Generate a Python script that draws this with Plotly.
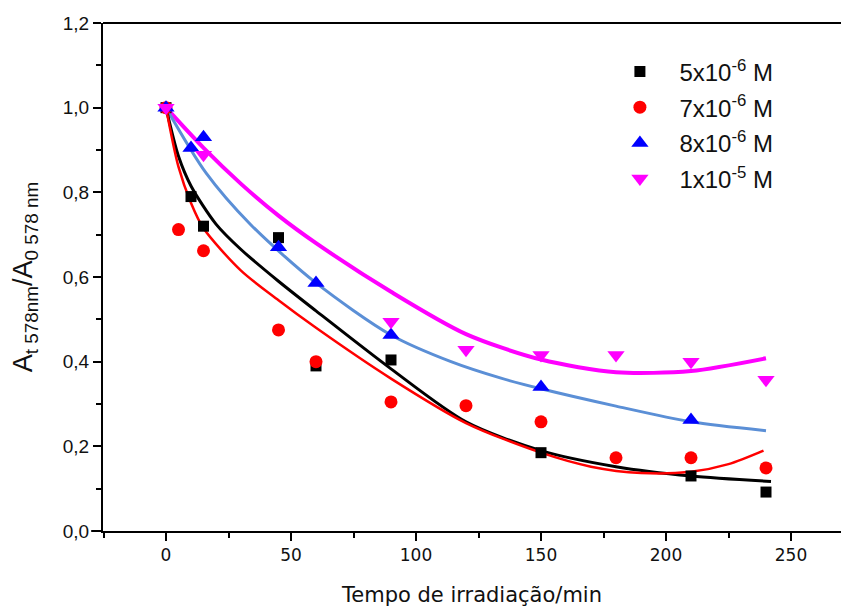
import plotly.graph_objects as go

# ----------------------------
# Dados
# ----------------------------
t_5e6 = [0, 10, 15, 45, 60, 90, 150, 210, 240]
a_5e6 = [1.0, 0.79, 0.72, 0.693, 0.39, 0.404, 0.185, 0.13, 0.092]

t_7e6 = [0, 5, 15, 45, 60, 90, 120, 150, 180, 210, 240]
a_7e6 = [1.0, 0.712, 0.662, 0.475, 0.40, 0.305, 0.296, 0.258, 0.173, 0.173, 0.149]

t_8e6 = [0, 10, 15, 45, 60, 90, 150, 210]
a_8e6 = [1.0, 0.905, 0.93, 0.67, 0.586, 0.463, 0.34, 0.262]

t_1e5 = [0, 15, 90, 120, 150, 180, 210, 240]
a_1e5 = [1.0, 0.889, 0.494, 0.428, 0.416, 0.416, 0.40, 0.357]

# curvas de ajuste (lidas ponto a ponto no gráfico)
fit_t_5e6 = [0, 5, 10, 20, 30, 45, 60, 90, 120, 150, 180, 210, 242]
fit_a_5e6 = [1.0, 0.885, 0.815, 0.725, 0.665, 0.59, 0.52, 0.383, 0.258, 0.19, 0.152, 0.13, 0.117]

fit_t_7e6 = [0, 5, 10, 15, 30, 45, 60, 90, 120, 150, 170, 190, 210, 225, 239]
fit_a_7e6 = [1.0, 0.86, 0.775, 0.715, 0.615, 0.545, 0.48, 0.36, 0.255, 0.185, 0.152, 0.137,
             0.14, 0.158, 0.19]

fit_t_8e6 = [0, 16, 34, 60, 90, 114, 134, 150, 180, 210, 240]
fit_a_8e6 = [1.0, 0.846, 0.723, 0.586, 0.463, 0.40, 0.361, 0.336, 0.295, 0.258, 0.237]

fit_t_1e5 = [0, 15, 30, 45, 60, 90, 120, 150, 180, 210, 240]
fit_a_1e5 = [1.0, 0.905, 0.82, 0.745, 0.68, 0.565, 0.465, 0.405, 0.375, 0.378, 0.408]

labels = ["5x10<sup>-6</sup> M", "7x10<sup>-6</sup> M",
          "8x10<sup>-6</sup> M", "1x10<sup>-5</sup> M"]

fig = go.Figure()

# linhas de ajuste
fits = [
    (fit_t_1e5, fit_a_1e5, "#ff00ff", 4),
    (fit_t_8e6, fit_a_8e6, "#5b8fd6", 3),
    (fit_t_5e6, fit_a_5e6, "#000000", 3),
    (fit_t_7e6, fit_a_7e6, "#ff0000", 2.5),
]
for tx, ay, cor, lw in fits:
    fig.add_trace(go.Scatter(x=tx, y=ay, mode="lines", showlegend=False,
                             line=dict(color=cor, width=lw, shape="spline", smoothing=0.8),
                             hoverinfo="skip"))

# pontos experimentais
pontos = [
    (t_5e6, a_5e6, labels[0], "square", "#000000", 11),
    (t_7e6, a_7e6, labels[1], "circle", "#ff0000", 13),
    (t_8e6, a_8e6, labels[2], "triangle-up", "#0000ff", 15),
    (t_1e5, a_1e5, labels[3], "triangle-down", "#ff00ff", 15),
]
for i, (tx, ay, nome, simb, cor, ms) in enumerate(pontos):
    fig.add_trace(go.Scatter(x=tx, y=ay, mode="markers", name=nome,
                             legendgroup=f"g{i}",
                             marker=dict(symbol=simb, color=cor, size=ms,
                                         line=dict(width=0))))

eixo = dict(showline=True, linecolor="black", linewidth=2, ticks="outside",
            ticklen=8, tickwidth=1.5, tickcolor="black", showgrid=False,
            zeroline=False, automargin=False)

fig.update_xaxes(range=[-25.2, 270], tick0=0, dtick=50,
                 minor=dict(ticks="outside", ticklen=5, tickcolor="black", dtick=25, tick0=0),
                 tickfont=dict(family="DejaVu Sans", size=17, color="#111"),
                 title=dict(text="Tempo de irradiação/min", standoff=23,
                            font=dict(family="DejaVu Sans", size=21, color="#111")),
                 **eixo)
fig.update_yaxes(range=[0, 1.2], tick0=0, dtick=0.2, tickformat=".1f",
                 minor=dict(ticks="outside", ticklen=5, tickcolor="black", dtick=0.1, tick0=0),
                 tickfont=dict(family="Liberation Sans, Arial", size=19, color="#111"),
                 title=dict(text="A<sub>t 578nm</sub>/A<sub>0 578 nm</sub>", standoff=22,
                            font=dict(family="Liberation Sans Narrow, Arial Narrow, sans-serif",
                                      size=27, color="#111")),
                 **eixo)

# linha superior do quadro e prolongamento do eixo x à esquerda
fig.add_shape(type="line", xref="paper", yref="paper", x0=0, x1=1, y0=1, y1=1,
              line=dict(color="black", width=2))
fig.add_shape(type="line", xref="paper", yref="paper", x0=-0.016, x1=0, y0=0, y1=0,
              line=dict(color="black", width=2))

fig.update_layout(
    width=841, height=607,
    margin=dict(l=103, r=0, t=23, b=76),
    paper_bgcolor="white", plot_bgcolor="white",
    separators=",.",
    legend=dict(x=0.674, y=0.948, xanchor="left", yanchor="top",
                font=dict(family="Liberation Sans, Arial", size=24, color="#111"),
                bgcolor="rgba(0,0,0,0)", tracegroupgap=1.5, itemwidth=69),
)

# sem margem no body da página, para a figura ocupar a janela toda
fig.write_html("out.html", config={"displayModeBar": False},
               post_script="document.body.style.margin='0';document.body.style.overflow='hidden';")
